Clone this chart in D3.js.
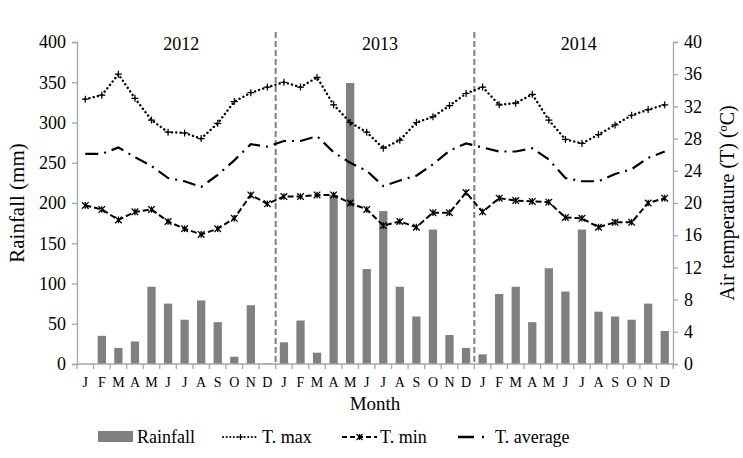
<!DOCTYPE html>
<html>
<head>
<meta charset="utf-8">
<script src="https://cdn.jsdelivr.net/npm/d3@7"></script>
<style>
body { margin:0; background:#fff; }
svg text { font-family:"Liberation Serif","Times New Roman",serif; fill:#000; }
</style>
</head>
<body>
<svg id="graph"></svg>
<script>
var months = ["J","F","M","A","M","J","J","A","S","O","N","D"];
var years = ["2012","2013","2014"];

// rainfall (mm), Jan 2012 .. Dec 2014
var rainfall = [0,35,20,28,96,75,55,79,52,9,73,1,
                27,54,14,210,349,118,190,96,59,167,36,20,
                12,87,96,52,119,90,167,65,59,55,75,41];

// air temperature (°C)
var tMax = [32.9,33.4,36.0,33.0,30.3,28.8,28.7,28.0,29.9,32.6,33.7,34.4,
            35.0,34.4,35.6,32.2,30.0,28.8,26.8,27.8,30.0,30.7,32.1,33.6,
            34.4,32.2,32.4,33.5,30.3,27.9,27.4,28.5,29.7,30.9,31.6,32.2];
var tMin = [19.7,19.2,17.9,18.9,19.2,17.7,16.8,16.1,16.8,18.1,21.0,19.9,
            20.8,20.8,21.0,21.0,20.0,19.2,17.2,17.7,17.0,18.8,18.8,21.3,
            18.9,20.6,20.3,20.2,20.1,18.2,18.1,17.0,17.6,17.6,20.0,20.6];
var tAvg = [26.1,26.1,26.9,25.7,24.6,23.1,22.7,22.0,23.5,25.3,27.3,27.0,
            27.7,27.7,28.3,26.3,25.0,24.0,22.1,22.8,23.4,24.8,26.5,27.4,
            26.9,26.4,26.4,26.8,25.4,23.1,22.7,22.7,23.6,24.2,25.6,26.4];

var rainTicks = [0,50,100,150,200,250,300,350,400];
var tempTicks = [0,4,8,12,16,20,24,28,32,36,40];

var screen = {width:743, height:458};
var margins = {top:42, bottom:94, left:77, right:70};
var axisColor = "#a6a6a6";

var svg = d3.select("#graph")
    .attr("width",screen.width)
    .attr("height",screen.height);

var idx = d3.range(rainfall.length);

var xScale = d3.scaleBand()
    .domain(idx)
    .range([margins.left, screen.width-margins.right])
    .paddingInner(0.5)
    .paddingOuter(0.25);

var yRain = d3.scaleLinear()
    .domain([0,400])
    .range([screen.height-margins.bottom, margins.top]);

var yTemp = d3.scaleLinear()
    .domain([0,40])
    .range([screen.height-margins.bottom, margins.top]);

var step = xScale.step();
var x0 = margins.left, x1 = screen.width-margins.right;
var xc = function(i){ return xScale(i)+xScale.bandwidth()/2; };

// bars
svg.append("g")
    .selectAll("rect")
    .data(rainfall)
    .enter()
    .append("rect")
    .attr("x",function(d,i){ return xScale(i); })
    .attr("y",function(d){ return yRain(d); })
    .attr("width",xScale.bandwidth())
    .attr("height",function(d){ return yRain(0)-yRain(d); })
    .attr("fill","#808080");

// axes
var leftAxis = d3.axisLeft(yRain).tickValues(rainTicks).tickSize(5).tickPadding(6);
var rightAxis = d3.axisRight(yTemp).tickValues(tempTicks).tickSize(5).tickPadding(6);

var gl = svg.append("g")
    .attr("transform","translate("+x0+",0)")
    .call(leftAxis);
var gr = svg.append("g")
    .attr("transform","translate("+x1+",0)")
    .call(rightAxis);
[gl,gr].forEach(function(g){
    g.select(".domain").attr("stroke",axisColor).attr("stroke-width",1.3);
    g.selectAll(".tick line").attr("stroke",axisColor).attr("stroke-width",1.3);
    g.selectAll(".tick text").attr("font-size",18).attr("font-family","Liberation Serif");
});

// x axis
var xb = yRain(0);
svg.append("line")
    .attr("x1",x0).attr("x2",x1)
    .attr("y1",xb).attr("y2",xb)
    .attr("stroke",axisColor).attr("stroke-width",1.3);
svg.append("g")
    .selectAll("line")
    .data(d3.range(rainfall.length+1))
    .enter()
    .append("line")
    .attr("x1",function(i){ return x0+i*step; })
    .attr("x2",function(i){ return x0+i*step; })
    .attr("y1",xb).attr("y2",xb+5)
    .attr("stroke",axisColor).attr("stroke-width",1.3);
svg.append("g")
    .selectAll("text")
    .data(idx)
    .enter()
    .append("text")
    .attr("x",function(i){ return xc(i); })
    .attr("y",xb+23)
    .attr("text-anchor","middle")
    .attr("font-size",14)
    .text(function(i){ return months[i%12]; });

// year separators
svg.append("g")
    .selectAll("line")
    .data([1,2])
    .enter()
    .append("line")
    .attr("x1",function(k){ return x0+k*12*step; })
    .attr("x2",function(k){ return x0+k*12*step; })
    .attr("y1",32).attr("y2",xb)
    .attr("stroke","#7f7f7f")
    .attr("stroke-width",2)
    .attr("stroke-dasharray","6,3");

svg.append("g")
    .selectAll("text")
    .data(years)
    .enter()
    .append("text")
    .attr("x",function(d,k){ return x0+(k*12+6)*step+5; })
    .attr("y",50)
    .attr("text-anchor","middle")
    .attr("font-size",18)
    .text(function(d){ return d; });

// temperature lines
var line = d3.line()
    .x(function(d,i){ return xc(i); })
    .y(function(d){ return yTemp(d); });

svg.append("path").datum(tMax)
    .attr("d",line).attr("fill","none")
    .attr("stroke","#000").attr("stroke-width",2.4)
    .attr("stroke-dasharray","0.1,4.2").attr("stroke-linecap","round");
svg.append("path").datum(tAvg)
    .attr("d",line).attr("fill","none")
    .attr("stroke","#000").attr("stroke-width",2.2)
    .attr("stroke-dasharray","13,6,2,6");
svg.append("path").datum(tMin)
    .attr("d",line).attr("fill","none")
    .attr("stroke","#000").attr("stroke-width",2)
    .attr("stroke-dasharray","6,3");

var plus = function(s){ return "M"+(-s)+",0H"+s+"M0,"+(-s)+"V"+s; };
var star = function(s){
    return "M"+(-s)+","+(-s)+"L"+s+","+s+"M"+(-s)+","+s+"L"+s+","+(-s)+"M0,"+(-s)+"V"+s;
};

svg.append("g")
    .selectAll("path")
    .data(tMax)
    .enter()
    .append("path")
    .attr("transform",function(d,i){ return "translate("+xc(i)+","+yTemp(d)+")"; })
    .attr("d",plus(3.5))
    .attr("stroke","#000").attr("stroke-width",1.2);
svg.append("g")
    .selectAll("path")
    .data(tMin)
    .enter()
    .append("path")
    .attr("transform",function(d,i){ return "translate("+xc(i)+","+yTemp(d)+")"; })
    .attr("d",star(3.3))
    .attr("stroke","#000").attr("stroke-width",1.3);

// titles
svg.append("text")
    .attr("transform","translate(24,"+((margins.top+xb)/2)+") rotate(-90)")
    .attr("text-anchor","middle")
    .attr("font-size",21)
    .text("Rainfall (mm)");
svg.append("text")
    .attr("transform","translate(734,"+((margins.top+xb)/2)+") rotate(-90)")
    .attr("text-anchor","middle")
    .attr("font-size",20)
    .text("Air temperature (T) (ºC)");
svg.append("text")
    .attr("x",(x0+x1)/2)
    .attr("y",410)
    .attr("text-anchor","middle")
    .attr("font-size",19)
    .text("Month");

// legend
var ly = 437;
var lg = svg.append("g");
lg.append("rect").attr("x",98).attr("y",ly-6).attr("width",35).attr("height",11).attr("fill","#808080");
lg.append("text").attr("x",137).attr("y",ly+6).attr("font-size",18).text("Rainfall");

lg.append("line").attr("x1",223).attr("x2",258).attr("y1",ly).attr("y2",ly)
    .attr("stroke","#000").attr("stroke-width",2).attr("stroke-dasharray","0.1,3.5").attr("stroke-linecap","round");
lg.append("path").attr("transform","translate(240.5,"+ly+")").attr("d",plus(3))
    .attr("stroke","#000").attr("stroke-width",1.2);
lg.append("text").attr("x",262).attr("y",ly+6).attr("font-size",18).text("T. max");

lg.append("line").attr("x1",342).attr("x2",377).attr("y1",ly).attr("y2",ly)
    .attr("stroke","#000").attr("stroke-width",2).attr("stroke-dasharray","5,3");
lg.append("path").attr("transform","translate(359.5,"+ly+")").attr("d",star(3))
    .attr("stroke","#000").attr("stroke-width",1.2);
lg.append("text").attr("x",380).attr("y",ly+6).attr("font-size",18).text("T. min");

lg.append("line").attr("x1",458).attr("x2",490).attr("y1",ly).attr("y2",ly)
    .attr("stroke","#000").attr("stroke-width",2.4).attr("stroke-dasharray","16,8,2,8");
lg.append("text").attr("x",495).attr("y",ly+6).attr("font-size",18).text("T. average");
</script>
</body>
</html>
